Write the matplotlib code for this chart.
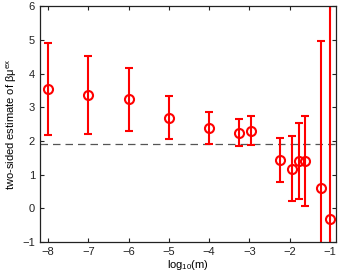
import numpy as np
import matplotlib
matplotlib.use('Agg')
import matplotlib.pyplot as plt

plt.rcParams['font.family'] = ['Liberation Sans', 'DejaVu Sans']
plt.rcParams['mathtext.fontset'] = 'custom'
plt.rcParams['mathtext.rm'] = 'Liberation Sans'
plt.rcParams['mathtext.it'] = 'Liberation Sans'

# log10 of m and the estimates with their upper / lower interval ends
log_m = [-8, -7, -6, -5, -4, -3.26, -2.97, -2.25, -1.95, -1.77, -1.63, -1.22, -1.0]
estimate = [3.55, 3.36, 3.23, 2.69, 2.39, 2.25, 2.30, 1.43, 1.16, 1.40, 1.40, 0.60, -0.31]
upper = [4.91, 4.52, 4.15, 3.33, 2.85, 2.66, 2.74, 2.10, 2.15, 2.54, 2.74, 4.97, 7.5]
lower = [2.17, 2.22, 2.30, 2.05, 1.92, 1.85, 1.87, 0.77, 0.21, 0.27, 0.08, -2.0, -2.5]
reference = 1.9

est = np.array(estimate)
yerr = [est - np.array(lower), np.array(upper) - est]

fig = plt.figure(figsize=(3.38, 2.77), dpi=100)
ax = fig.add_axes([0.118, 0.126, 0.876, 0.852])

ax.axhline(reference, color='#555555', lw=0.9, dashes=(6, 4))
ax.errorbar(log_m, estimate, yerr=yerr, fmt='o', color='red', ecolor='red',
            mfc='none', mec='red', ms=6.5, mew=1.5, elinewidth=1.5,
            capsize=2.6, capthick=1.5)

ax.set_xlim(-8.2, -0.85)
ax.set_ylim(-1, 6)
ax.set_xticks(range(-8, 0))
ax.set_yticks(range(-1, 7))
ax.tick_params(direction='in', length=3, width=0.8, labelsize=8,
               top=True, right=True, colors='#222222')
for s in ax.spines.values():
    s.set_linewidth(0.9)
    s.set_color('#222222')

ax.set_xlabel(r'log$_{10}$(m)', fontsize=8, labelpad=1)
ax.set_ylabel(r'two-sided estimate of $\beta\mu^{ex}$', fontsize=8, labelpad=2)

fig.savefig('out.png', dpi=100)
